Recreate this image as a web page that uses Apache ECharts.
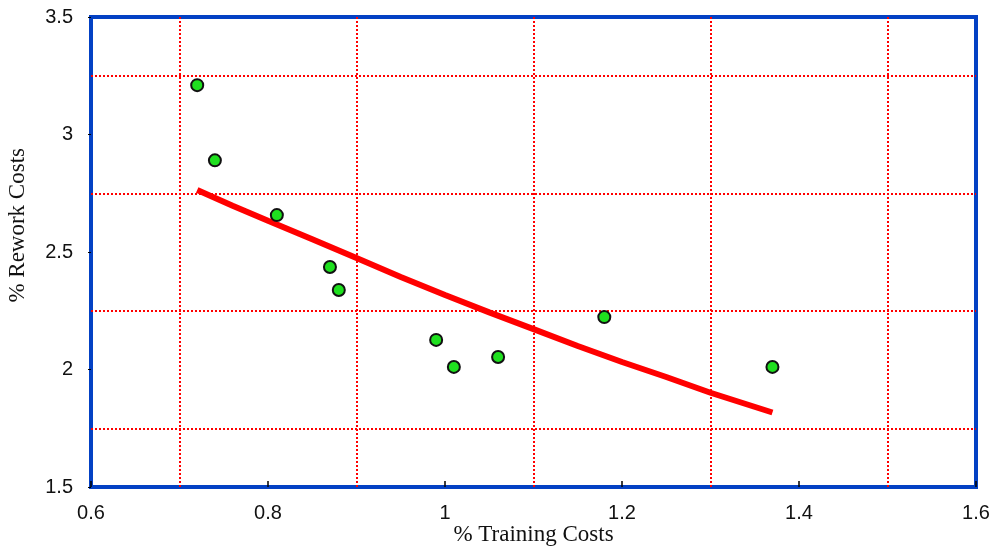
<!DOCTYPE html>
<html>
<head>
<meta charset="utf-8">
<script src="https://cdn.jsdelivr.net/npm/echarts@6/dist/echarts.min.js"></script>
<style>
  html, body { margin: 0; padding: 0; background: #fff; }
  #chart { width: 992px; height: 547px; }
</style>
</head>
<body>
<div id="chart"></div>
<script>
  // observed points
  var trainingCosts = [0.72, 0.74, 0.81, 0.87, 0.88, 0.99, 1.01, 1.06, 1.18, 1.37];
  var reworkCosts   = [3.21, 2.89, 2.657, 2.436, 2.338, 2.126, 2.011, 2.053, 2.223, 2.011];

  // trend curve
  var fitX = [0.72, 0.76, 0.80, 0.85, 0.90, 0.95, 1.00, 1.05, 1.10, 1.15, 1.20, 1.25, 1.30, 1.37];
  var fitY = [2.764, 2.697, 2.633, 2.554, 2.474, 2.394, 2.317, 2.243, 2.172, 2.100, 2.032, 1.968, 1.901, 1.817];

  var xTicks = { min: 0.6, max: 1.6, step: 0.2 };
  var yTicks = { min: 1.5, max: 3.5, step: 0.5 };

  var chartDom = echarts.init(document.getElementById('chart'));

  function zip(a, b) {
    return a.map(function (v, i) { return [v, b[i]]; });
  }

  var gridLine = { color: '#ff0000', width: 2, type: [2, 2] },
    labelStyle = { color: '#111', fontSize: 20, fontFamily: 'Liberation Sans, Arial, sans-serif' };

  var option = {
    animation: false,
    grid: {
      left: 91, right: 16, top: 17, bottom: 60,
      outerBoundsMode: 'none',
      containLabel: false,
      show: true,
      borderColor: '#0341c4',
      borderWidth: 4,
      backgroundColor: 'transparent'
    },
    xAxis: {
      type: 'value',
      min: xTicks.min, max: xTicks.max, interval: xTicks.step,
      axisLine: { show: false },
      axisTick: { show: true, inside: true, length: 6, lineStyle: { color: '#000', width: 1.5 } },
      axisLabel: Object.assign({ margin: 16 }, labelStyle),
      splitLine: { show: false },
      minorTick: { show: false, splitNumber: 2 },
      minorSplitLine: { show: true, lineStyle: gridLine },
      name: '% Training Costs',
      nameLocation: 'middle',
      nameMoveOverlap: false,
      nameGap: 36,
      nameTextStyle: { color: '#111', fontSize: 23, fontFamily: 'Liberation Serif, Times New Roman, serif' }
    },
    yAxis: {
      type: 'value',
      min: yTicks.min, max: yTicks.max, interval: yTicks.step,
      axisLine: { show: false },
      axisTick: { show: true, length: 3, lineStyle: { color: '#000', width: 1 } },
      axisLabel: Object.assign({ margin: 18 }, labelStyle),
      splitLine: { show: false },
      minorTick: { show: false, splitNumber: 2 },
      minorSplitLine: { show: true, lineStyle: gridLine }
    },
    graphic: [{
      type: 'text',
      left: 6,
      top: 148,
      rotation: Math.PI / 2,
      style: {
        text: '% Rework Costs',
        fill: '#111',
        font: '23px "Liberation Serif", "Times New Roman", serif'
      }
    }],
    series: [
      {
        type: 'line',
        data: zip(fitX, fitY),
        showSymbol: false,
        lineStyle: { color: '#ff0000', width: 6 },
        z: 2
      },
      {
        type: 'scatter',
        data: zip(trainingCosts, reworkCosts),
        symbol: 'circle',
        symbolSize: 12,
        itemStyle: { color: '#1fe01f', borderColor: '#111', borderWidth: 2, opacity: 1 },
        z: 3
      }
    ]
  };

  chartDom.setOption(option);
</script>
</body>
</html>
